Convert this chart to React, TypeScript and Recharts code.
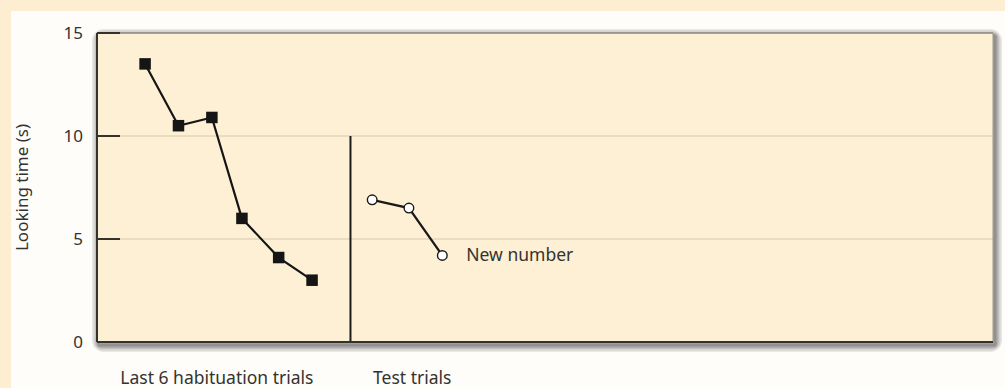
import React from "react";
import {
  ComposedChart,
  Line,
  XAxis,
  YAxis,
  ReferenceLine,
  ReferenceArea,
} from "recharts";

// ---- data ----
const habituationTrials = [1.0, 2.0, 3.0, 3.9, 5.0, 6.0];
const habituationTimes = [13.5, 10.5, 10.9, 6.0, 4.1, 3.0];
const testTrials = [7.8, 8.9, 9.9];
const testTimes = [6.9, 6.5, 4.2];
const testLabel = "New number";
const groupPositions = [3.15, 9.0];
const groupLabels = ["Last 6 habituation trials", "Test trials"];
const yTicks = [0, 5, 10, 15];
const gridValues = [5, 10];
const dividerX = 7.15;
const dividerTop = 10;
const xDomain: [number, number] = [-0.44, 26.39];
const yDomain: [number, number] = [0, 15];
const yLabel = "Looking time (s)";

const habData = habituationTrials.map((x, i) => ({ x, y: habituationTimes[i] }));
const testData = testTrials.map((x, i) => ({ x, y: testTimes[i] }));

const FONT = "'Noto Sans', 'Open Sans', sans-serif";
const TEXT = "#34332f";
const AXIS = "#34322b";
const PLOT_BG = "#fdf0d4";
const SHADOW_STEPS = [14, 11, 8, 6, 4, 2];

const SquareDot = (props: any) => {
  const { cx, cy } = props;
  if (cx == null || cy == null) return null;
  const s = 11.5;
  return <rect x={cx - s / 2} y={cy - s / 2} width={s} height={s} fill="#151515" />;
};

const CircleDot = (props: any) => {
  const { cx, cy } = props;
  if (cx == null || cy == null) return null;
  return <circle cx={cx} cy={cy} r={4.8} fill="#ffffff" stroke="#1a1a1a" strokeWidth={1.4} />;
};

const ShadowRect = (props: any) => {
  const { x, y, width, height } = props;
  return (
    <g>
      {SHADOW_STEPS.map((w) => (
        <rect
          key={w}
          x={x + 2}
          y={y + 3}
          width={width}
          height={height}
          fill="none"
          stroke="#000"
          strokeOpacity={0.085}
          strokeWidth={w}
          rx={w / 3}
        />
      ))}
      <rect x={x} y={y} width={width} height={height} fill={PLOT_BG} />
    </g>
  );
};

const YTick = (props: any) => {
  const { x, y, payload } = props;
  const axisX = x + 12;
  return (
    <g>
      <text
        x={axisX - 14}
        y={y}
        dy={6}
        textAnchor="end"
        fontFamily={FONT}
        fontSize={17}
        fill={TEXT}
      >
        {payload.value}
      </text>
      {payload.value > 0 && (
        <line x1={axisX} x2={axisX + 23} y1={y} y2={y} stroke={AXIS} strokeWidth={2} />
      )}
    </g>
  );
};

const XTick = (props: any) => {
  const { x, y, index } = props;
  return (
    <text
      x={x}
      y={y}
      dy={14}
      textAnchor="middle"
      fontFamily={FONT}
      fontSize={17.5}
      fill={TEXT}
    >
      {groupLabels[index] ?? ""}
    </text>
  );
};

const EndLabel = (props: any) => {
  const { x, y, index } = props;
  if (index !== testData.length - 1) return null;
  return (
    <text x={x + 24} y={y} dy={6} fontFamily={FONT} fontSize={17.5} fill={TEXT}>
      {testLabel}
    </text>
  );
};

export default function App() {
  return (
    <div
      style={{
        position: "absolute",
        left: 0,
        top: 0,
        width: 1005,
        height: 388,
        background: "#fdeed2",
        overflow: "hidden",
      }}
    >
      <div
        style={{
          position: "absolute",
          left: 11,
          top: 11,
          width: 994,
          height: 377,
          background: "#fffdf9",
        }}
      />
      <div style={{ position: "absolute", left: 0, top: 0 }}>
        <ComposedChart
          width={1005}
          height={388}
          margin={{ top: 33, right: 12, bottom: 0, left: 0 }}
        >
          <XAxis
            type="number"
            dataKey="x"
            domain={xDomain}
            ticks={groupPositions}
            allowDataOverflow
            tick={<XTick />}
            tickLine={false}
            tickSize={0}
            tickMargin={28}
            axisLine={{ stroke: AXIS, strokeWidth: 2 }}
            height={46}
            interval={0}
          />
          <YAxis
            type="number"
            domain={yDomain}
            ticks={yTicks}
            tick={<YTick />}
            tickLine={false}
            tickSize={0}
            tickMargin={12}
            axisLine={false}
            width={97}
            interval={0}
            label={{
              value: yLabel,
              angle: -90,
              position: "insideLeft",
              offset: 22,
              style: { fontFamily: FONT, fontSize: 17, fill: TEXT, textAnchor: "middle" },
            }}
          />
          <ReferenceArea
            x1={xDomain[0]}
            x2={xDomain[1]}
            y1={yDomain[0]}
            y2={yDomain[1]}
            shape={<ShadowRect />}
            ifOverflow="extendDomain"
          />
          {gridValues.map((v) => (
            <ReferenceLine key={v} y={v} stroke="#e4d6b8" strokeWidth={1.5} />
          ))}
          <ReferenceLine y={yDomain[1]} stroke="#8a8880" strokeWidth={1.5} />
          <ReferenceLine x={xDomain[0]} stroke={AXIS} strokeWidth={2} />
          <ReferenceLine x={xDomain[1]} stroke="#9a968c" strokeWidth={1} />
          <ReferenceLine
            segment={[
              { x: dividerX, y: yDomain[0] },
              { x: dividerX, y: dividerTop },
            ]}
            stroke="#1c1c1c"
            strokeWidth={2}
          />
          <Line
            data={habData}
            dataKey="y"
            type="linear"
            stroke="#151515"
            strokeWidth={2.2}
            dot={<SquareDot />}
            activeDot={false}
            isAnimationActive={false}
          />
          <Line
            data={testData}
            dataKey="y"
            type="linear"
            stroke="#1a1a1a"
            strokeWidth={2.2}
            dot={<CircleDot />}
            activeDot={false}
            label={<EndLabel />}
            isAnimationActive={false}
          />
        </ComposedChart>
      </div>
    </div>
  );
}
